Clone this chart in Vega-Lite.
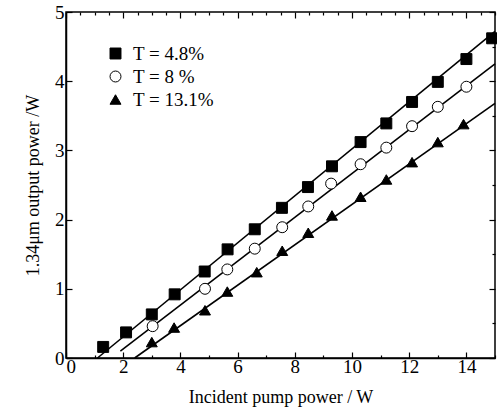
{
  "$schema": "https://vega.github.io/schema/vega-lite/v6.json",
  "width": 429,
  "height": 346,
  "autosize": "none",
  "padding": {"left": 66, "top": 12, "right": 2, "bottom": 52},
  "background": "white",
  "config": {
    "view": {"stroke": "black", "strokeWidth": 1.5},
    "font": "Liberation Serif",
    "style": {"guide-label": {"font": "Liberation Serif"}, "guide-title": {"font": "Liberation Serif"}},
    "legend": {"labelFont": "Liberation Serif", "labelFontSize": 19, "labelColor": "black"},
    "axis": {
      "labelFont": "Liberation Serif",
      "titleFont": "Liberation Serif",
      "labelFontSize": 19,
      "titleFontSize": 18,
      "titleFontWeight": "normal",
      "labelColor": "black",
      "titleColor": "black",
      "tickColor": "black",
      "domainColor": "black",
      "domainWidth": 1.5,
      "tickWidth": 1.2,
      "grid": false
    }
  },
  "datasets": {
    "pts": [
      {"s": "T = 4.8%", "x": 1.3, "y": 0.16},
      {"s": "T = 4.8%", "x": 2.1, "y": 0.37},
      {"s": "T = 4.8%", "x": 3.0, "y": 0.63},
      {"s": "T = 4.8%", "x": 3.8, "y": 0.92},
      {"s": "T = 4.8%", "x": 4.85, "y": 1.25},
      {"s": "T = 4.8%", "x": 5.65, "y": 1.57},
      {"s": "T = 4.8%", "x": 6.6, "y": 1.86},
      {"s": "T = 4.8%", "x": 7.55, "y": 2.17},
      {"s": "T = 4.8%", "x": 8.46, "y": 2.47},
      {"s": "T = 4.8%", "x": 9.3, "y": 2.77},
      {"s": "T = 4.8%", "x": 10.3, "y": 3.12},
      {"s": "T = 4.8%", "x": 11.2, "y": 3.39},
      {"s": "T = 4.8%", "x": 12.1, "y": 3.70},
      {"s": "T = 4.8%", "x": 13.0, "y": 3.99},
      {"s": "T = 4.8%", "x": 14.0, "y": 4.32},
      {"s": "T = 4.8%", "x": 14.9, "y": 4.62},
      {"s": "T = 8 %", "x": 3.03, "y": 0.46},
      {"s": "T = 8 %", "x": 4.86, "y": 1.0},
      {"s": "T = 8 %", "x": 5.64, "y": 1.28},
      {"s": "T = 8 %", "x": 6.6, "y": 1.58},
      {"s": "T = 8 %", "x": 7.56, "y": 1.89},
      {"s": "T = 8 %", "x": 8.47, "y": 2.19},
      {"s": "T = 8 %", "x": 9.27, "y": 2.52},
      {"s": "T = 8 %", "x": 10.3, "y": 2.8},
      {"s": "T = 8 %", "x": 11.2, "y": 3.04},
      {"s": "T = 8 %", "x": 12.1, "y": 3.35},
      {"s": "T = 8 %", "x": 13.0, "y": 3.63},
      {"s": "T = 8 %", "x": 14.0, "y": 3.92},
      {"s": "T = 13.1%", "x": 3.0, "y": 0.23},
      {"s": "T = 13.1%", "x": 3.78, "y": 0.44},
      {"s": "T = 13.1%", "x": 4.86, "y": 0.69},
      {"s": "T = 13.1%", "x": 5.64, "y": 0.96},
      {"s": "T = 13.1%", "x": 6.67, "y": 1.24},
      {"s": "T = 13.1%", "x": 7.56, "y": 1.55},
      {"s": "T = 13.1%", "x": 8.47, "y": 1.81},
      {"s": "T = 13.1%", "x": 9.3, "y": 2.06},
      {"s": "T = 13.1%", "x": 10.3, "y": 2.33},
      {"s": "T = 13.1%", "x": 11.2, "y": 2.58},
      {"s": "T = 13.1%", "x": 12.1, "y": 2.83},
      {"s": "T = 13.1%", "x": 13.0, "y": 3.12},
      {"s": "T = 13.1%", "x": 13.9, "y": 3.38}
    ],
    "fits": [
      {"s": "a", "x": 1.1, "y": 0.0},
      {"s": "a", "x": 15.0, "y": 4.72},
      {"s": "b", "x": 1.9, "y": 0.1},
      {"s": "b", "x": 15.0, "y": 4.25},
      {"s": "c", "x": 2.4, "y": 0.0},
      {"s": "c", "x": 15.0, "y": 3.68}
    ]
  },
  "layer": [
    {
      "data": {"name": "fits"},
      "mark": {"type": "line", "color": "black", "strokeWidth": 1.6},
      "encoding": {
        "x": {"field": "x", "type": "quantitative", "scale": {"domain": [0, 15], "nice": false},
          "axis": {"orient": "top", "labels": false, "title": null, "domain": false,
            "values": [0,0.5,1,1.5,2,2.5,3,3.5,4,4.5,5,5.5,6,6.5,7,7.5,8,8.5,9,9.5,10,10.5,11,11.5,12,12.5,13,13.5,14,14.5,15],
            "tickSize": {"condition": {"test": "datum.value % 2 === 0", "value": -6}, "value": -3}}},
        "y": {"field": "y", "type": "quantitative", "scale": {"domain": [0, 5], "nice": false},
          "axis": {"orient": "right", "labels": false, "title": null, "domain": false,
            "values": [0,0.5,1,1.5,2,2.5,3,3.5,4,4.5,5],
            "tickSize": {"condition": {"test": "datum.value % 1 === 0", "value": -6}, "value": -3}}},
        "detail": {"field": "s"}
      }
    },
    {
      "data": {"name": "pts"},
      "mark": {"type": "point", "stroke": "black", "strokeWidth": 1, "opacity": 1, "size": 120},
      "encoding": {
        "x": {"field": "x", "type": "quantitative",
          "axis": {"orient": "bottom", "title": "Incident pump power / W", "titlePadding": 12, "labelPadding": 5, "format": "d",
            "values": [0,0.5,1,1.5,2,2.5,3,3.5,4,4.5,5,5.5,6,6.5,7,7.5,8,8.5,9,9.5,10,10.5,11,11.5,12,12.5,13,13.5,14,14.5,15],
            "labelExpr": "datum.value % 2 === 0 ? datum.label : ''",
            "tickSize": {"condition": {"test": "datum.value % 2 === 0", "value": -6}, "value": -3}}},
        "y": {"field": "y", "type": "quantitative",
          "axis": {"orient": "left", "title": "1.34μm output power /W", "titlePadding": 12, "labelPadding": 8, "format": "d",
            "values": [0,0.5,1,1.5,2,2.5,3,3.5,4,4.5,5],
            "labelExpr": "datum.value % 1 === 0 ? datum.label : ''",
            "tickSize": {"condition": {"test": "datum.value % 1 === 0", "value": -6}, "value": -3}}},
        "shape": {"field": "s", "type": "nominal",
          "scale": {"domain": ["T = 4.8%", "T = 8 %", "T = 13.1%"], "range": ["square", "circle", "triangle-up"]},
          "legend": {"title": null, "orient": "none", "legendX": 40, "legendY": 32,
            "labelFont": "Liberation Serif", "labelFontSize": 19, "labelColor": "black",
            "symbolSize": 120, "symbolStrokeWidth": 1, "rowPadding": 3, "labelOffset": 8,
            "encode": {"labels": {"update": {"font": {"value": "Liberation Serif"}, "fontSize": {"value": 19}}}}}},
        "fill": {"field": "s", "type": "nominal",
          "scale": {"domain": ["T = 4.8%", "T = 8 %", "T = 13.1%"], "range": ["black", "white", "black"]},
          "legend": {"title": null, "orient": "none", "legendX": 40, "legendY": 32,
            "labelFont": "Liberation Serif", "labelFontSize": 19, "labelColor": "black",
            "symbolSize": 120, "symbolStrokeWidth": 1, "rowPadding": 3, "labelOffset": 8,
            "encode": {"labels": {"update": {"font": {"value": "Liberation Serif"}, "fontSize": {"value": 19}}}}}}
      }
    }
  ],
  "resolve": {"axis": {"x": "independent", "y": "independent"}}
}
